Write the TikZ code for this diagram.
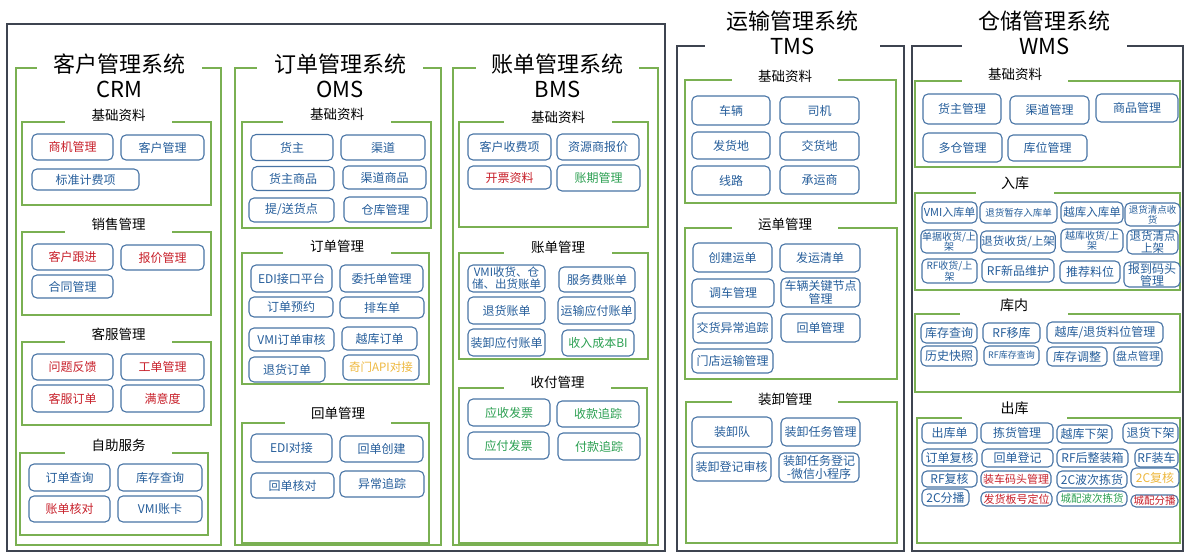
\documentclass[tikz,border=0pt]{standalone}
\usepackage{fontspec}
\setmainfont{Noto Sans CJK SC}
\definecolor{modblue}{RGB}{38,94,155}
\definecolor{modline}{RGB}{72,116,165}
\definecolor{modred}{RGB}{200,32,42}
\definecolor{modgreen}{RGB}{44,160,82}
\definecolor{modgold}{RGB}{238,184,62}
\definecolor{secgreen}{RGB}{122,176,82}
\definecolor{frmgray}{RGB}{62,68,80}
\tikzset{
  mod/.style={draw=modline, line width=1.1pt, rounded corners=5pt, fill=white,
    text=modblue, inner sep=0.5pt, align=center, font=\fontsize{12}{13}\selectfont},
  hot/.style={mod, text=modred},
  fresh/.style={mod, text=modgreen},
  warm/.style={mod, text=modgold},
  wh/.style 2 args={minimum width=#1pt, minimum height=#2pt},
  part/.style={draw=secgreen, line width=1.3pt},
  sys/.style={draw=secgreen, line width=2.2pt},
  frm/.style={draw=frmgray, line width=2.6pt},
  partlabel/.style={fill=white, inner sep=0pt, minimum height=22pt,
    font=\fontsize{13.5}{14}\selectfont},
  systitle/.style={fill=white, inner sep=0pt, align=center,
    font=\fontsize{22}{25}\selectfont},
}
\begin{document}
\begin{tikzpicture}[x=1pt,y=-1pt]
\useasboundingbox (0,0) rectangle (1188,557);
\draw[frm] (7,24) rectangle (665,551);
\draw[frm] (677,46) rectangle (904,551);
\draw[frm] (912,46) rectangle (1183,551);
\draw[sys] (16,68) rectangle (221,545);
\draw[sys] (235,68) rectangle (441,545);
\draw[sys] (453,68) rectangle (658,545);
\begin{scope}[part]
  \draw (22,122) rectangle (211,205);
  \draw (22,232) rectangle (211,315);
  \draw (22,342) rectangle (211,425);
  \draw (20,453) rectangle (208,535);
  \draw (242,122) rectangle (431,228);
  \draw (242,253) rectangle (429,384);
  \draw (242,423) rectangle (429,543);
  \draw (459,122) rectangle (648,227);
  \draw (459,253) rectangle (648,359);
  \draw (459,388) rectangle (647,543);
  \draw (685,80) rectangle (896,203);
  \draw (685,228) rectangle (897,379);
  \draw (686,402) rectangle (897,543);
  \draw (915,81) rectangle (1180,167);
  \draw (915,193) rectangle (1180,290);
  \draw (915,314) rectangle (1180,392);
  \draw (917,418) rectangle (1180,543);
\end{scope}
\node[systitle, minimum width=165pt] (crm) at (119.5,75.5) {客户管理系统\\CRM};
\node[systitle, minimum width=166pt] (oms) at (340,75.5) {订单管理系统\\OMS};
\node[systitle, minimum width=163pt] (bms) at (557.5,75.5) {账单管理系统\\BMS};
\node[systitle, minimum width=175pt] (tms) at (792.5,33) {运输管理系统\\TMS};
\node[systitle, minimum width=165pt] (wms) at (1044.5,33) {仓储管理系统\\WMS};
\node[partlabel, minimum width=107pt] (crml1) at (118.5,115) {基础资料};
\node[partlabel, minimum width=107pt] (crml2) at (118.5,224) {销售管理};
\node[partlabel, minimum width=107pt] (crml3) at (118.5,334) {客服管理};
\node[partlabel, minimum width=107pt] (crml4) at (118.5,445) {自助服务};
\node[partlabel, minimum width=108pt] (omsl1) at (337,114) {基础资料};
\node[partlabel, minimum width=108pt] (omsl2) at (337,246) {订单管理};
\node[partlabel, minimum width=106pt] (omsl3) at (338,413) {回单管理};
\node[partlabel, minimum width=108pt] (bmsl1) at (558,117) {基础资料};
\node[partlabel, minimum width=108pt] (bmsl2) at (558,247) {账单管理};
\node[partlabel, minimum width=107pt] (bmsl3) at (557.5,382) {收付管理};
\node[partlabel, minimum width=106pt] (tmsl1) at (785,76) {基础资料};
\node[partlabel, minimum width=106pt] (tmsl2) at (785,224) {运单管理};
\node[partlabel, minimum width=106pt] (tmsl3) at (785,399) {装卸管理};
\node[partlabel, minimum width=106pt] (wmsl1) at (1015,74) {基础资料};
\node[partlabel, minimum width=78pt, font=\fontsize{14}{15}\selectfont] (wmsl2) at (1015,183) {入库};
\node[partlabel, minimum width=108pt, font=\fontsize{14}{15}\selectfont] (wmsl3) at (1014,305) {库内};
\node[partlabel, minimum width=105pt, font=\fontsize{14}{15}\selectfont] (wmsl4) at (1014.5,408) {出库};
\node[hot, wh={81}{26}] (crm11) at (72.5,147) {商机管理};
\node[mod, wh={83}{25}] (crm12) at (162.5,147.5) {客户管理};
\node[mod, wh={107}{21}] (crm13) at (85.5,179.5) {标准计费项};
\node[hot, wh={81}{26}] (crm21) at (72.5,257) {客户跟进};
\node[hot, wh={83}{25}] (crm22) at (162.5,257.5) {报价管理};
\node[mod, wh={81}{23}] (crm23) at (72.5,286.5) {合同管理};
\node[hot, wh={81}{26}] (crm31) at (72.5,367) {问题反馈};
\node[hot, wh={83}{26}] (crm32) at (162.5,367) {工单管理};
\node[hot, wh={81}{27}] (crm33) at (72.5,398.5) {客服订单};
\node[hot, wh={83}{27}] (crm34) at (162.5,398.5) {满意度};
\node[mod, wh={81}{27}] (crm41) at (69.5,477.5) {订单查询};
\node[mod, wh={84}{27}] (crm42) at (160,477.5) {库存查询};
\node[hot, wh={81}{26}] (crm43) at (69.5,509) {账单核对};
\node[mod, wh={84}{26}] (crm44) at (160,509) {VMI账卡};
\node[mod, wh={82}{26}] (oms11) at (292,147.5) {货主};
\node[mod, wh={84}{25}] (oms12) at (383,147.5) {渠道};
\node[mod, wh={82}{24}] (oms13) at (293,178.5) {货主商品};
\node[mod, wh={83}{23}] (oms14) at (384.5,177.5) {渠道商品};
\node[mod, wh={85}{24}] (oms15) at (291.5,210) {提/送货点};
\node[mod, wh={83}{25}] (oms16) at (385.5,209.5) {仓库管理};
\node[mod, wh={81}{27}] (oms21) at (291.5,278.5) {EDI接口平台};
\node[mod, wh={83}{27}] (oms22) at (381.5,278.5) {委托单管理};
\node[mod, wh={84}{20}] (oms23) at (291,307) {订单预约};
\node[mod, wh={84}{21}] (oms24) at (382,307.5) {排车单};
\node[mod, wh={85}{23}] (oms25) at (291.5,339.5) {VMI订单审核};
\node[mod, wh={75}{23}] (oms26) at (379.5,338.5) {越库订单};
\node[mod, wh={76}{25}] (oms27) at (287,369.5) {退货订单};
\node[warm, wh={76}{25}, font=\fontsize{11.5}{12}\selectfont] (oms28) at (381,367.5) {奇门API对接};
\node[mod, wh={81}{28}] (oms31) at (291.5,448) {EDI对接};
\node[mod, wh={83}{26}] (oms32) at (381.5,449) {回单创建};
\node[mod, wh={83}{25}] (oms33) at (292.5,485.5) {回单核对};
\node[mod, wh={84}{26}] (oms34) at (382,484) {异常追踪};
\node[mod, wh={83}{26}] (bms11) at (509.5,147) {客户收费项};
\node[mod, wh={82}{26}] (bms12) at (598,147) {资源商报价};
\node[hot, wh={83}{23}] (bms13) at (509.5,177.5) {开票资料};
\node[fresh, wh={83}{26}] (bms14) at (598.5,178) {账期管理};
\node[mod, wh={77}{27}, inner sep=0pt, font=\fontsize{11.5}{12}\selectfont] (bms21) at (506.5,278.5) {VMI收货、仓\\储、出货账单};
\node[mod, wh={76}{25}] (bms22) at (597,279.5) {服务费账单};
\node[mod, wh={77}{27}] (bms23) at (506.5,310.5) {退货账单};
\node[mod, wh={77}{27}] (bms24) at (596.5,310.5) {运输应付账单};
\node[mod, wh={77}{27}] (bms25) at (506.5,342.5) {装卸应付账单};
\node[fresh, wh={72}{26}] (bms26) at (598,343) {收入成本BI};
\node[fresh, wh={82}{27}] (bms31) at (509,412.5) {应收发票};
\node[fresh, wh={82}{26}] (bms32) at (598,414) {收款追踪};
\node[fresh, wh={81}{27}] (bms33) at (508.5,445.5) {应付发票};
\node[fresh, wh={82}{27}] (bms34) at (599,446.5) {付款追踪};
\node[mod, wh={78}{29}] (tms11) at (731,110.5) {车辆};
\node[mod, wh={79}{27}] (tms12) at (819.5,110.5) {司机};
\node[mod, wh={78}{27}] (tms13) at (731,145.5) {发货地};
\node[mod, wh={79}{28}] (tms14) at (819.5,146) {交货地};
\node[mod, wh={78}{29}] (tms15) at (731,180.5) {线路};
\node[mod, wh={79}{28}] (tms16) at (819.5,180) {承运商};
\node[mod, wh={79}{29}] (tms21) at (732.5,257.5) {创建运单};
\node[mod, wh={80}{28}] (tms22) at (820,258) {发运清单};
\node[mod, wh={82}{28}] (tms23) at (733,293) {调车管理};
\node[mod, wh={79}{29}, inner sep=0pt, font=\fontsize{12}{12.5}\selectfont] (tms24) at (820.5,292.5) {车辆关键节点\\管理};
\node[mod, wh={79}{30}] (tms25) at (732.5,328) {交货异常追踪};
\node[mod, wh={79}{28}] (tms26) at (820.5,328) {回单管理};
\node[mod, wh={81}{24}] (tms27) at (732.5,361) {门店运输管理};
\node[mod, wh={80}{30}] (tms31) at (732,432) {装卸队};
\node[mod, wh={79}{28}] (tms32) at (820.5,432) {装卸任务管理};
\node[mod, wh={79}{28}] (tms33) at (731.5,467) {装卸登记审核};
\node[mod, wh={80}{29}, inner sep=0pt, font=\fontsize{12}{12.5}\selectfont] (tms34) at (819,467.5) {装卸任务登记\\-微信小程序};
\node[mod, wh={78}{30}] (wms11) at (962,109) {货主管理};
\node[mod, wh={79}{28}] (wms12) at (1049.5,110) {渠道管理};
\node[mod, wh={82}{28}] (wms13) at (1137,108) {商品管理};
\node[mod, wh={79}{29}] (wms14) at (962.5,147.5) {多仓管理};
\node[mod, wh={79}{26}] (wms15) at (1047.5,148) {库位管理};
\node[mod, wh={55}{21}, font=\fontsize{11}{12}\selectfont] (wms21) at (949.5,212.5) {VMI入库单};
\node[mod, wh={77}{21}, font=\fontsize{9.5}{10}\selectfont] (wms22) at (1018.5,212.5) {退货暂存入库单};
\node[mod, wh={62}{21}, font=\fontsize{11.5}{12}\selectfont] (wms23) at (1092,212.5) {越库入库单};
\node[mod, wh={55}{23}, inner sep=0pt, font=\fontsize{9.5}{10}\selectfont] (wms24) at (1152.5,214.5) {退货清点收\\货};
\node[mod, wh={56}{23}, inner sep=0pt, font=\fontsize{10}{10.5}\selectfont] (wms25) at (949,241.5) {单据收货/上\\架};
\node[mod, wh={72}{22}, font=\fontsize{11.5}{12}\selectfont] (wms26) at (1018,242) {退货收货/上架};
\node[mod, wh={62}{23}, inner sep=0pt, font=\fontsize{10}{10.5}\selectfont] (wms27) at (1092,240.5) {越库收货/上\\架};
\node[mod, wh={51}{24}, inner sep=0pt, font=\fontsize{11.5}{11.5}\selectfont] (wms28) at (1152.5,242) {退货清点\\上架};
\node[mod, wh={55}{24}, inner sep=0pt, font=\fontsize{10}{10.5}\selectfont] (wms29) at (949.5,271) {RF收货/上\\架};
\node[mod, wh={72}{23}] (wms2a) at (1018,270.5) {RF新品维护};
\node[mod, wh={60}{22}] (wms2b) at (1090,272) {推荐料位};
\node[mod, wh={56}{25}, inner sep=0pt, font=\fontsize{12}{12}\selectfont] (wms2c) at (1152,274.5) {报到码头\\管理};
\node[mod, wh={56}{20}] (wms31) at (949,333) {库存查询};
\node[mod, wh={57}{20}] (wms32) at (1011.5,333) {RF移库};
\node[mod, wh={116}{21}] (wms33) at (1105,332.5) {越库/退货料位管理};
\node[mod, wh={56}{20}] (wms34) at (949,356) {历史快照};
\node[mod, wh={55}{19}, font=\fontsize{9}{10}\selectfont] (wms35) at (1011.5,355.5) {RF库存查询};
\node[mod, wh={60}{19}] (wms36) at (1077,356.5) {库存调整};
\node[mod, wh={48}{19}, font=\fontsize{11}{12}\selectfont] (wms37) at (1138,356.5) {盘点管理};
\node[mod, wh={55}{20}] (wms41) at (949.5,433) {出库单};
\node[mod, wh={72}{20}] (wms42) at (1017,433) {拣货管理};
\node[mod, wh={55}{18}] (wms43) at (1084.5,434) {越库下架};
\node[mod, wh={55}{20}] (wms44) at (1150.5,433) {退货下架};
\node[mod, wh={55}{17}] (wms45) at (949.5,457.5) {订单复核};
\node[mod, wh={71}{18}] (wms46) at (1017.5,458) {回单登记};
\node[mod, wh={71}{18}] (wms47) at (1092.5,458) {RF后整装箱};
\node[mod, wh={43}{18}] (wms48) at (1156.5,458) {RF装车};
\node[mod, wh={55}{16}] (wms49) at (949.5,479) {RF复核};
\node[hot, wh={70}{16}, font=\fontsize{11}{12}\selectfont] (wms4a) at (1016,479) {装车码头管理};
\node[mod, wh={70}{17}] (wms4b) at (1092,479.5) {2C波次拣货};
\node[warm, wh={48}{19}] (wms4c) at (1155,477.5) {2C复核};
\node[mod, wh={47}{17}] (wms4d) at (945.5,497.5) {2C分播};
\node[hot, wh={71}{14}, font=\fontsize{11}{12}\selectfont] (wms4e) at (1016.5,499) {发货板号定位};
\node[fresh, wh={70}{15}, font=\fontsize{10.5}{11}\selectfont] (wms4f) at (1092,498.5) {城配波次拣货};
\node[hot, wh={47}{12}, font=\fontsize{10.5}{11}\selectfont] (wms4g) at (1154.5,501) {城配分播};
\end{tikzpicture}
\end{document}
